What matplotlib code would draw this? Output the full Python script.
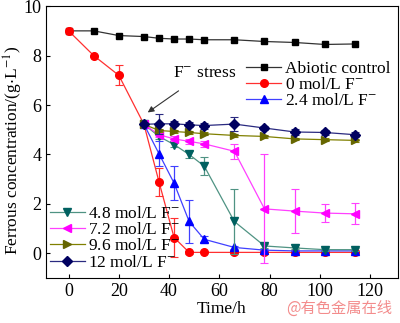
import matplotlib
matplotlib.use('Agg')
import matplotlib.pyplot as plt

plt.rcParams['font.family'] = ['Liberation Serif', 'DejaVu Serif']
plt.rcParams['mathtext.fontset'] = 'stix'

# time points (h)
t_all = [0, 10, 20, 30, 36, 42, 48, 54, 66, 78, 90, 102, 114]
t_stress = t_all[3:]

# ferrous concentration (g/L)
abiotic = [9.0, 9.0, 8.81, 8.77, 8.7, 8.67, 8.67, 8.64, 8.64, 8.57, 8.53, 8.45, 8.47]
f0 = [9.0, 8.0, 7.2, 5.22, 2.89, 0.64, 0.04, 0.04, 0.04, 0.04, 0.04, 0.04, 0.04]
f0_err = [0, 0, 0.4, 0, 0.55, 0.8, 0.05, 0, 0, 0, 0, 0, 0]

f24 = [5.22, 4.03, 2.84, 1.29, 0.57, 0.24, 0.13, 0.1, 0.1, 0.1]
f24_err = [0, 0.5, 0.7, 0.87, 0.12, 0.05, 0.03, 0, 0, 0]
f48 = [5.22, 4.73, 4.4, 4.0, 3.53, 1.29, 0.3, 0.22, 0.15, 0.15]
f48_err = [0, 0.1, 0.1, 0.15, 0.35, 1.3, 0.08, 0.05, 0.05, 0.05]
f72 = [5.22, 4.8, 4.63, 4.53, 4.43, 4.13, 1.8, 1.71, 1.63, 1.6]
f72_err = [0, 0.1, 0.1, 0.1, 0.12, 0.3, 2.2, 0.9, 0.37, 0.43]
f96 = [5.22, 4.97, 4.93, 4.89, 4.84, 4.77, 4.73, 4.63, 4.6, 4.57]
f96_err = [0, 0.05, 0.05, 0.05, 0.05, 0.05, 0.05, 0.05, 0.05, 0.05]
f12 = [5.22, 5.24, 5.24, 5.2, 5.17, 5.23, 5.07, 4.91, 4.89, 4.8]
f12_err = [0, 0.4, 0.1, 0.1, 0.12, 0.28, 0.1, 0.12, 0.12, 0.1]

fig = plt.figure(figsize=(4.0, 3.23), dpi=100)
ax = fig.add_axes([0.115, 0.139, 0.879, 0.842])

def series(x, y, err, color, mcolor, marker, label, ms=5.5):
    if err is not None:
        ax.errorbar(x, y, yerr=err, fmt='none', ecolor=color, elinewidth=0.9,
                    capsize=3, capthick=0.8)
    h, = ax.plot(x, y, color=color, lw=0.9, marker=marker, ms=ms,
                 mfc=mcolor, mec=mcolor, label=label)
    return h

h_ab = series(t_all, abiotic, None, '#333333', 'black', 's', 'Abiotic control', 5)
h0 = series(t_all, f0, f0_err, '#ff3030', '#ff0000', 'o', '0 mol/L F$^{-}$')
ax.plot(t_all[0], f0[0], 's', color='#ff0000', ms=5)
h24 = series(t_stress, f24, f24_err, '#4040ff', '#0000ff', '^', '2.4 mol/L F$^{-}$')
h48 = series(t_stress, f48, f48_err, '#4f9383', '#006060', 'v', '4.8 mol/L F$^{-}$')
h72 = series(t_stress, f72, f72_err, '#ff40ff', '#ff00ff', '<', '7.2 mol/L F$^{-}$')
h96 = series(t_stress, f96, f96_err, '#808000', '#666600', '>', '9.6 mol/L F$^{-}$')
h12 = series(t_stress, f12, f12_err, '#2a2a80', '#000060', 'D', '12 mol/L F$^{-}$', 5)

ax.set_xlim(-9, 131)
ax.set_ylim(-1, 10)
ax.set_xticks([0, 20, 40, 60, 80, 100, 120])
ax.set_yticks([0, 2, 4, 6, 8, 10])
ax.tick_params(direction='in', labelsize=13, length=3, width=0.8)
ax.set_xlabel('Time/h', fontsize=12.5, labelpad=1)
ax.set_ylabel('Ferrous concentration/(g$\\cdot$L$^{-1}$)', fontsize=12.5)
ax.yaxis.set_label_coords(-0.06, 0.47)
for s in ax.spines.values():
    s.set_linewidth(0.8)

ax.annotate('F$^{-}$ stress', xy=(31.5, 5.7), xytext=(54, 7.3),
            ha='center', va='center', fontsize=12.5,
            arrowprops=dict(arrowstyle='-|>', color='#333333', lw=0.8,
                            shrinkA=9, shrinkB=0, mutation_scale=9))

leg1 = ax.legend(handles=[h_ab, h0, h24], loc='upper left',
                 bbox_to_anchor=(0.57, 0.80), frameon=False, fontsize=12.5,
                 handlelength=2.0, handletextpad=0.2, labelspacing=0.0,
                 borderpad=0, borderaxespad=0)
ax.add_artist(leg1)
ax.legend(handles=[h48, h72, h96, h12], loc='upper left',
          bbox_to_anchor=(0.011, 0.265), frameon=False, fontsize=12.5,
          handlelength=2.0, handletextpad=0.2, labelspacing=0.0,
          borderpad=0, borderaxespad=0)

fig.text(0.98, 0.045, '@有色金属在线', ha='right', va='center', fontsize=11,
         color='#f07070', alpha=0.8, family=['Noto Sans CJK SC', 'DejaVu Sans'])

fig.savefig('out.png', dpi=100)
